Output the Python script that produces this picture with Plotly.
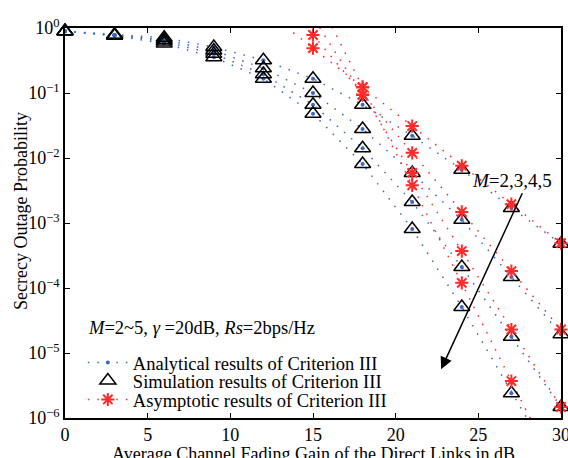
import plotly.graph_objects as go

# x axis: average channel fading gain (dB)
snr_db = [0, 3, 6, 9, 12, 15, 18, 21, 24, 27, 30]
M_values = [2, 3, 4, 5]

# Analytical results (Criterion III), one list per M
analytical = {
    2: [0.89, 0.79, 0.71, 0.51, 0.32, 0.166, 0.066, 0.022, 6.6e-3, 1.7e-3, 4.8e-4],
    3: [0.89, 0.78, 0.66, 0.45, 0.24, 0.100, 0.028, 5.9e-3, 1.12e-3, 1.48e-4, 1.95e-5],
    4: [0.89, 0.77, 0.62, 0.40, 0.195, 0.066, 0.0141, 2.1e-3, 2.1e-4, 1.78e-5, 1.48e-6],
    5: [0.89, 0.76, 0.575, 0.355, 0.166, 0.048, 8.1e-3, 8.1e-4, 5.1e-5, 2.4e-6, 1.26e-7],
}

# Simulation results (Criterion III)
simulation = {
    2: [0.89, 0.79, 0.71, 0.51, 0.32, 0.166, 0.066, 0.022, 6.6e-3, 1.7e-3, 4.8e-4],
    3: [0.89, 0.78, 0.66, 0.45, 0.24, 0.100, 0.028, 5.9e-3, 1.12e-3, 1.48e-4, 1.95e-5],
    4: [0.89, 0.77, 0.62, 0.40, 0.195, 0.066, 0.0141, 2.1e-3, 2.1e-4, 1.78e-5, 1.48e-6],
    5: [0.89, 0.76, 0.575, 0.355, 0.166, 0.048, 8.1e-3, 8.1e-4, 5.1e-5, 2.4e-6, None],
}

# Asymptotic results (Criterion III)
asym_db = [12, 15, 18, 21, 24, 27, 30]
asymptotic = {
    2: [1.95, 0.49, 0.123, 0.031, 7.6e-3, 1.95e-3, 4.9e-4],
    3: [6.3, 0.78, 0.095, 0.012, 1.48e-3, 1.82e-4, 2.3e-5],
    4: [23.0, 1.48, 0.093, 5.9e-3, 3.7e-4, 2.3e-5, 1.48e-6],
    5: [126.0, 4.0, 0.123, 3.8e-3, 1.2e-4, 3.7e-6, 1.15e-7],
}

y_tick_vals = [1e-6, 1e-5, 1e-4, 1e-3, 1e-2, 1e-1, 1e0]
y_tick_text = ["10<sup>\u22126</sup>", "10<sup>\u22125</sup>", "10<sup>\u22124</sup>",
               "10<sup>\u22123</sup>", "10<sup>\u22122</sup>", "10<sup>\u22121</sup>",
               "10<sup>0</sup>"]
x_tick_vals = [0, 5, 10, 15, 20, 25, 30]

BLUE = "#3a68c4"
RED = "#ff2a2a"
FONT = "Liberation Serif, Times New Roman, serif"
DOT = "1.5px,8px"

fig = go.Figure()

for i, M in enumerate(M_values):
    fig.add_trace(go.Scatter(
        x=snr_db, y=analytical[M], mode="lines+markers",
        line=dict(color=BLUE, width=1.5, dash=DOT),
        marker=dict(symbol="circle", size=4, color=BLUE),
        name="Analytical results of Criterion III",
        legend="legend", showlegend=(i == 0),
    ))

for i, M in enumerate(M_values):
    fig.add_trace(go.Scatter(
        x=asym_db, y=asymptotic[M], mode="lines",
        line=dict(color=RED, width=1.5, dash=DOT),
        showlegend=False, hoverinfo="skip",
    ))

for i, M in enumerate(M_values):
    fig.add_trace(go.Scatter(
        x=snr_db, y=simulation[M], mode="markers",
        marker=dict(symbol="triangle-up-open", size=14, color="black",
                    line=dict(color="black", width=1.5)),
        name="Simulation results of Criterion III",
        legend="legend2", showlegend=(i == 0),
        cliponaxis=False,
    ))

for i, M in enumerate(M_values):
    xs = [x for x, v in zip(asym_db, asymptotic[M]) if 1e-6 <= v <= 1.0]
    ys = [v for v in asymptotic[M] if 1e-6 <= v <= 1.0]
    fig.add_trace(go.Scatter(
        x=xs, y=ys, mode="markers",
        marker=dict(symbol="asterisk-open", size=11, color=RED,
                    line=dict(color=RED, width=2)),
        showlegend=False, cliponaxis=False,
    ))

# legend entry for asymptotic (line + marker)
fig.add_trace(go.Scatter(
    x=[None], y=[None], mode="lines+markers",
    line=dict(color=RED, width=1.5, dash=DOT),
    marker=dict(symbol="asterisk-open", size=11, color=RED,
                line=dict(color=RED, width=2)),
    name="Asymptotic results of Criterion III",
    legend="legend3", showlegend=True,
))

axis_common = dict(
    showline=True, linecolor="black", linewidth=1.5, mirror="ticks",
    ticks="inside", ticklen=5, tickwidth=1, tickcolor="black",
    showgrid=False, zeroline=False, automargin=False,
    ticklabeloverflow="allow",
    tickfont=dict(family=FONT, size=18, color="black"),
)

leg_common = dict(xanchor="left", yanchor="top", bgcolor="rgba(0,0,0,0)",
                  font=dict(family=FONT, size=18.5, color="black"),
                  itemwidth=40)

fig.update_layout(
    width=568, height=458,
    margin=dict(l=65, r=7, t=28, b=40),
    paper_bgcolor="white", plot_bgcolor="white",
    font=dict(family=FONT, color="black"),
    xaxis=dict(range=[0, 30], tickvals=x_tick_vals, **axis_common),
    yaxis=dict(type="log", range=[-6, 0], tickvals=y_tick_vals, ticktext=y_tick_text,
               **axis_common),
    legend=dict(x=0.036, y=0.190, **leg_common),
    legend2=dict(x=0.036, y=0.1436, **leg_common),
    legend3=dict(x=0.036, y=0.095, **leg_common),
    showlegend=True,
)

# axis titles
fig.add_annotation(
    x=0.5, y=-0.092, xref="paper", yref="paper", xanchor="center", yanchor="middle",
    text="Average Channel Fading Gain of the Direct Links in dB", showarrow=False,
    font=dict(family=FONT, size=18, color="black"),
)
fig.add_annotation(
    x=-0.0887, y=0.531, xref="paper", yref="paper", xanchor="center", yanchor="middle",
    text="Secrecy Outage Probability", textangle=-90, showarrow=False,
    font=dict(family=FONT, size=18, color="black"),
)

fig.add_annotation(
    x=22.75, y=-5.25, ax=27.7, ay=-2.52, xref="x", yref="y", axref="x", ayref="y",
    text="", showarrow=True, arrowhead=2, arrowsize=1.6, arrowwidth=1.5, arrowcolor="black",
)
fig.add_annotation(
    x=0.985, y=-2.34, xref="paper", yref="y", xanchor="right", yanchor="middle",
    text="<i>M</i>=2,3,4,5", showarrow=False,
    font=dict(family=FONT, size=19, color="black"),
)
fig.add_annotation(
    x=0.043, y=-4.62, xref="paper", yref="y", xanchor="left", yanchor="middle",
    text="<i>M</i>=2~5, <i>\u03b3</i> =20dB, <i>Rs</i>=2bps/Hz", showarrow=False,
    font=dict(family=FONT, size=18.5, color="black"),
)

fig.write_html("out.html", config={"displayModeBar": False},
               post_script="document.body.style.margin='0px';")
